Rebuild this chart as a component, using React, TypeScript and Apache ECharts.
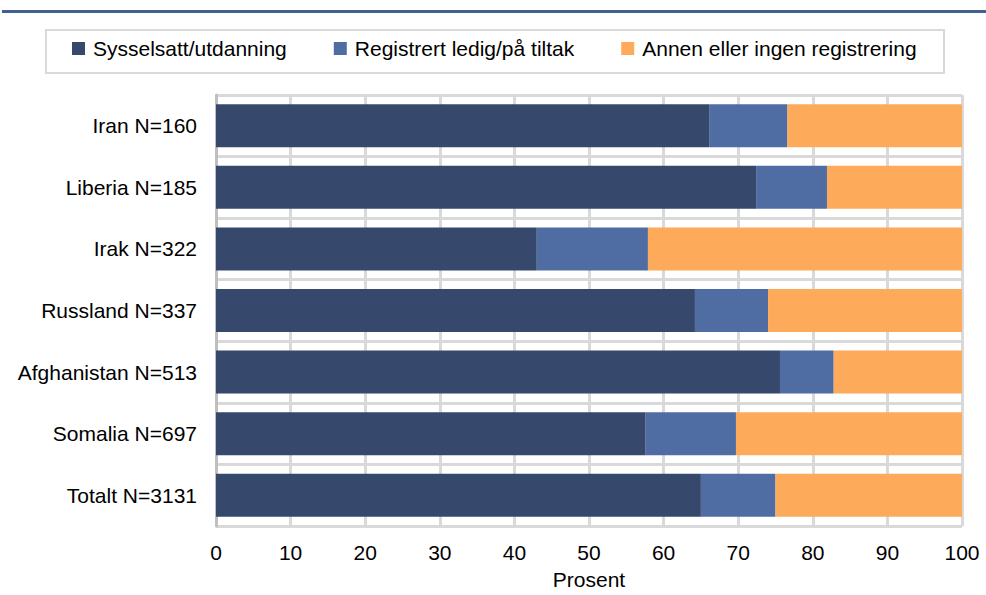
import React, { useEffect, useRef } from "react";
import * as echarts from "echarts";

const categories = [
  "Iran N=160",
  "Liberia N=185",
  "Irak N=322",
  "Russland N=337",
  "Afghanistan N=513",
  "Somalia N=697",
  "Totalt N=3131",
];
const seriesNames = [
  "Sysselsatt/utdanning",
  "Registrert ledig/på tiltak",
  "Annen eller ingen registrering",
];
const employed = [66.1, 72.4, 43.0, 64.2, 75.6, 57.6, 65.0];
const unemployed = [10.5, 9.5, 14.9, 9.8, 7.2, 12.1, 10.0];
const other = [23.4, 18.1, 42.1, 26.0, 17.2, 30.3, 25.0];
const xTicks = { min: 0, max: 100, interval: 10 };
const axisName = "Prosent";

const colors = ["#36486b", "#4f6da2", "#fdaa5b"];
const FONT = "'Liberation Sans', Arial, sans-serif";

export default function App() {
  const ref = useRef<HTMLDivElement>(null);
  useEffect(() => {
    if (!ref.current) return;
    const chart = echarts.init(ref.current, null, { renderer: "svg" });
    const values = [employed, unemployed, other];
    chart.setOption({
      animation: false,
      textStyle: { fontFamily: FONT },
      color: colors,
      graphic: [
        {
          type: "rect",
          shape: { x: 2, y: 10, width: 984, height: 3 },
          style: { fill: "#43618f" },
          silent: true,
        },
        {
          type: "rect",
          shape: { x: 46, y: 30, width: 898, height: 43 },
          style: { fill: "#ffffff", stroke: "#d9d9d9", lineWidth: 2 },
          silent: true,
          z: -1,
        },
      ],
      legend: {
        left: 72,
        top: 38,
        padding: 0,
        itemWidth: 13,
        itemHeight: 13,
        itemGap: 47,
        icon: "rect",
        textStyle: {
          fontFamily: FONT,
          fontSize: 21,
          color: "#000",
          padding: [0, 0, 0, 3],
        },
        data: seriesNames,
      },
      grid: { left: 216, right: 24, top: 95, bottom: 69, containLabel: false },
      xAxis: {
        type: "value",
        min: xTicks.min,
        max: xTicks.max,
        interval: xTicks.interval,
        name: axisName,
        nameLocation: "middle",
        nameGap: 43,
        nameTextStyle: { fontFamily: FONT, fontSize: 21, color: "#000" },
        axisLine: { show: false },
        axisTick: { show: false },
        axisLabel: { fontFamily: FONT, fontSize: 21, color: "#000", margin: 16 },
        splitLine: { show: true, lineStyle: { color: "#d9d9d9", width: 3 } },
      },
      yAxis: {
        type: "category",
        inverse: true,
        data: categories,
        axisLine: { show: true, lineStyle: { color: "#bfbfbf", width: 3 } },
        axisTick: { show: false },
        axisLabel: { fontFamily: FONT, fontSize: 21, color: "#000", margin: 19 },
        splitLine: { show: true, lineStyle: { color: "#d9d9d9", width: 3 } },
      },
      series: seriesNames.map((name, i) => ({
        name,
        type: "bar",
        stack: "total",
        barWidth: 43,
        data: values[i],
        itemStyle: { color: colors[i] },
        z: 3,
      })),
    });
    return () => chart.dispose();
  }, []);
  return <div ref={ref} style={{ width: 986, height: 595, position: "absolute", left: 0, top: 0 }} />;
}
